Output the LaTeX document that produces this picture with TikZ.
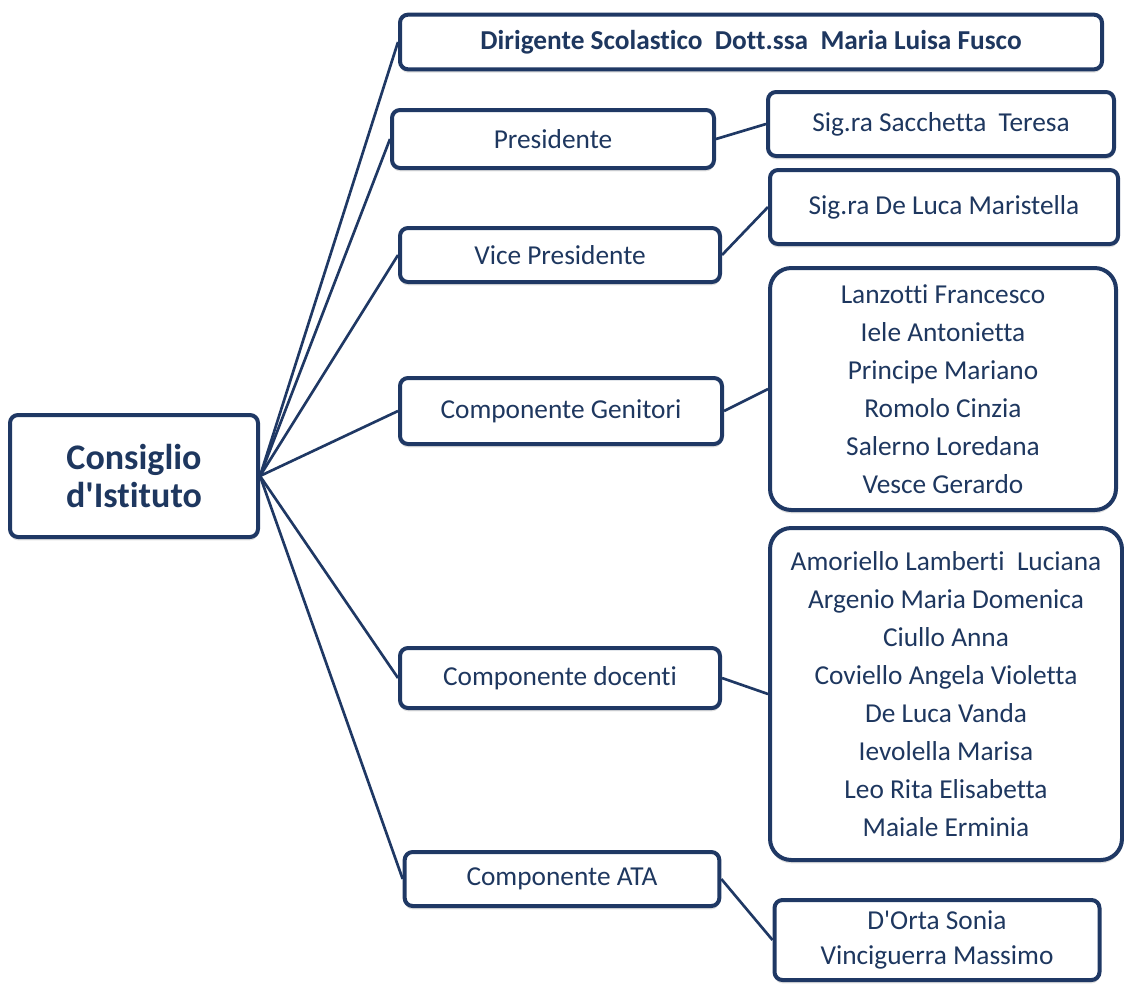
\documentclass[tikz,border=0pt]{standalone}
\usepackage{fontspec}
\setmainfont{Carlito}[Ligatures={TeXOff,NoCommon}]
\usetikzlibrary{shadows}
\definecolor{navy}{RGB}{31,56,100}
\definecolor{inkblue}{RGB}{30,55,95}

\begin{document}
\begin{tikzpicture}[x=0.75pt,y=-0.75pt,line join=round,
    box/.style={draw=navy,line width=3pt,fill=white,rounded corners=6pt,align=center,
        text=inkblue,font=\fontsize{20.5}{28.5}\selectfont,inner sep=0pt,
        drop shadow={shadow xshift=0pt,shadow yshift=-2.5pt,opacity=0.25}},
    listbox/.style={box,rounded corners=16pt},
    link/.style={draw=navy,line width=2pt}]
    \useasboundingbox (0,0) rectangle (1124,983);

    % root
    \node[box,minimum width=186pt,minimum height=91.5pt,
        font=\fontsize{27}{28}\selectfont\bfseries] (root) at (134,476) {Consiglio\\d'Istituto};

    % middle column
    \node[box,minimum width=526.5pt,minimum height=41pt,
        font=\fontsize{20.5}{22}\selectfont\bfseries] (dir) at (751,42) {Dirigente Scolastico\ \ Dott.ssa\ \ Maria Luisa Fusco};
    \node[box,minimum width=241.5pt,minimum height=43.5pt] (pres) at (553,139) {Presidente};
    \node[box,minimum width=240pt,minimum height=40.5pt] (vice) at (560,255) {Vice Presidente};
    \node[box,minimum width=241.5pt,minimum height=49.5pt] (gen) at (561,411) {Componente Genitori};
    \node[box,minimum width=240pt,minimum height=45pt] (doc) at (560,678) {Componente docenti};
    \node[box,minimum width=236pt,minimum height=40.5pt] (ata) at (562,879) {Componente ATA};

    % right column
    \node[box,minimum width=259.5pt,minimum height=48pt] (sacc) at (941,124) {Sig.ra Sacchetta\ \ Teresa};
    \node[box,minimum width=261pt,minimum height=55.5pt] (deluca) at (944,207) {Sig.ra De Luca Maristella};
    \node[listbox,minimum width=259.5pt,minimum height=181.5pt] (genlist) at (943,389)
        {Lanzotti Francesco\\Iele Antonietta\\Principe Mariano\\Romolo Cinzia\\Salerno Loredana\\Vesce Gerardo};
    \node[listbox,minimum width=264pt,minimum height=249pt] (doclist) at (946,694)
        {Amoriello Lamberti\ \ Luciana\\Argenio Maria Domenica\\Ciullo Anna\\Coviello Angela Violetta\\De Luca Vanda\\Ievolella Marisa\\Leo Rita Elisabetta\\Maiale Erminia};
    \node[box,minimum width=243.75pt,minimum height=60pt,font=\fontsize{20.5}{26}\selectfont] (atalist) at (937,940)
        {D'Orta Sonia\\Vinciguerra Massimo};

    % connectors from the root
    \foreach \n in {dir,pres,vice,gen,doc,ata}
        \draw[link] (root.east) -- (\n.west);

    % connectors to the lists
    \draw[link] (pres.east) -- (sacc.west);
    \draw[link] (vice.east) -- (deluca.west);
    \draw[link] (gen.east) -- (genlist.west);
    \draw[link] (doc.east) -- (doclist.west);
    \draw[link] (ata.east) -- (atalist.west);
\end{tikzpicture}
\end{document}
